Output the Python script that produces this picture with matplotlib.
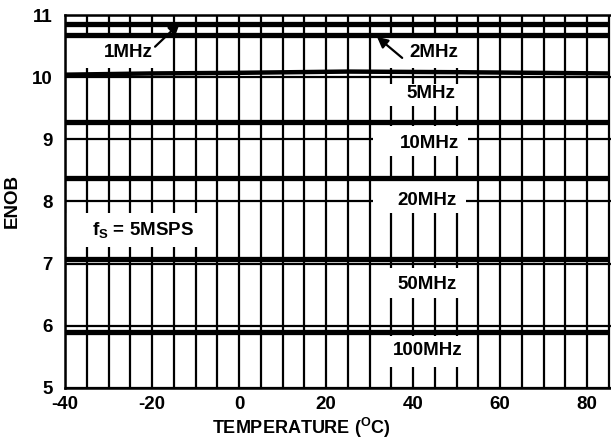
import matplotlib
matplotlib.use("Agg")
import matplotlib.pyplot as plt
from matplotlib.patches import Rectangle
import numpy as np

plt.rcParams['font.family'] = ['Liberation Sans', 'DejaVu Sans']
plt.rcParams['font.weight'] = 'bold'
plt.rcParams['axes.unicode_minus'] = False
plt.rcParams['mathtext.fontset'] = 'custom'
plt.rcParams['mathtext.rm'] = 'Liberation Sans:bold'
plt.rcParams['mathtext.it'] = 'Liberation Sans:bold'
plt.rcParams['mathtext.bf'] = 'Liberation Sans:bold'

# Data
temps = [-40, -20, 0, 25, 50, 85]
enob_1mhz = [10.86, 10.86, 10.86, 10.86, 10.86, 10.86]
enob_2mhz = [10.68, 10.68, 10.68, 10.68, 10.68, 10.68]
enob_5mhz = [10.04, 10.06, 10.07, 10.09, 10.08, 10.06]
enob_10mhz = [9.28, 9.28, 9.28, 9.28, 9.28, 9.28]
enob_20mhz = [8.38, 8.38, 8.38, 8.38, 8.38, 8.38]
enob_50mhz = [7.08, 7.08, 7.08, 7.08, 7.08, 7.08]
enob_100mhz = [5.90, 5.90, 5.90, 5.90, 5.90, 5.90]

xticks = [-40, -20, 0, 20, 40, 60, 80]
yticks = [5, 6, 7, 8, 9, 10, 11]

W, H = 611, 444
fig = plt.figure(figsize=(W / 100, H / 100), dpi=100)
ax = fig.add_axes([65 / W, 1 - 388 / H, 1 - 65 / W, (388 - 15) / H])
ax.set_xlim(-40, 85.5)
ax.set_ylim(5, 11)

# grid
for gx in np.arange(-40, 86, 5):
    ax.axvline(gx, color='black', lw=1.6, zorder=1)
for gy in yticks:
    ax.axhline(gy, color='black', lw=1.6, zorder=1)

series = [enob_1mhz, enob_2mhz, enob_5mhz, enob_10mhz, enob_20mhz, enob_50mhz, enob_100mhz]
widths = [3.8, 3.8, 3.2, 3.8, 3.8, 3.8, 3.8]
for s, w in zip(series, widths):
    ax.plot(temps, s, color='black', lw=w, zorder=3, solid_capstyle='butt')

ax.set_xticks(xticks)
ax.set_yticks(yticks)
ax.tick_params(length=0, labelsize=13.5)
ax.tick_params(axis='x', pad=6)
ax.tick_params(axis='y', pad=9)
for lab in ax.get_xticklabels() + ax.get_yticklabels():
    lab.set_fontweight('bold')
for sp in ['left', 'bottom', 'top']:
    ax.spines[sp].set_linewidth(1.8)
    ax.spines[sp].set_zorder(5)
ax.spines['right'].set_visible(False)

ax.set_ylabel('ENOB', fontsize=13.5, fontweight='bold', va='center')
ax.yaxis.set_label_coords((12 - 65) / 546, (388 - 201) / 373)
ax.set_xlabel(r'TEMPERATURE ($\mathbf{^{O}}$C)', fontsize=13, fontweight='bold', va='center')
ax.xaxis.set_label_coords((301 - 65) / 546, (388 - 428) / 373)

# white label backgrounds (pixel bounds x0, x1, y0, y1)
boxes_px = [
    (75, 165, 38, 68),
    (385, 470, 38, 68),
    (386, 468, 84, 106),
    (373, 468, 126, 156),
    (373, 466, 181, 213),
    (66, 205, 213, 247),
    (385, 470, 268, 298),
    (385, 470, 336, 367),
]
for x0, x1, y0, y1 in boxes_px:
    ax.add_patch(Rectangle((x0 / W, 1 - y1 / H), (x1 - x0) / W, (y1 - y0) / H,
                           transform=fig.transFigure, facecolor='white',
                           edgecolor='none', zorder=2))

fs = 13.5
labels = [
    ('1MHz', -25.5, 10.39),
    ('2MHz', 44.8, 10.39),
    ('5MHz', 44.1, 9.73),
    ('10MHz', 43.7, 8.94),
    ('20MHz', 43.2, 8.01),
    ('50MHz', 43.2, 6.66),
    ('100MHz', 43.4, 5.61),
    (r'$\mathbf{f_S}$ = 5MSPS', -22.1, 7.54),
]
for txt, x, y in labels:
    ax.text(x, y, txt, ha='center', va='center', fontsize=fs, fontweight='bold', zorder=6)

ax.annotate('', xy=(-13.6, 10.87), xytext=(-19.3, 10.49),
            arrowprops=dict(arrowstyle='-|>', color='black', lw=1.6, mutation_scale=16,
                            shrinkA=0, shrinkB=0), zorder=6)
ax.annotate('', xy=(31.7, 10.65), xytext=(37.5, 10.31),
            arrowprops=dict(arrowstyle='-|>', color='black', lw=1.6, mutation_scale=16,
                            shrinkA=0, shrinkB=0), zorder=6)

fig.savefig('out.png', dpi=100)
